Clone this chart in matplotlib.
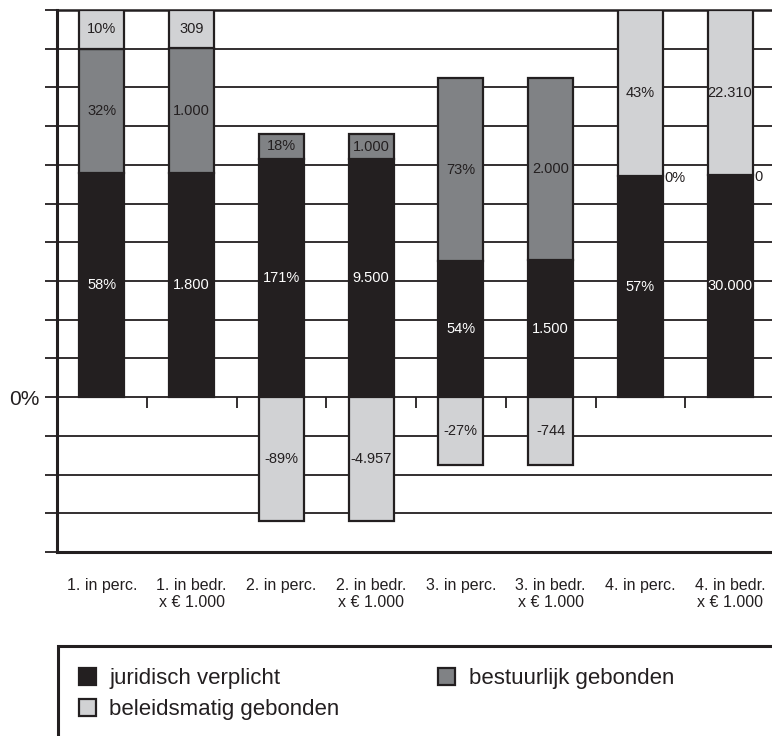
import numpy as np
import matplotlib
matplotlib.use("Agg")
import matplotlib.pyplot as plt
from matplotlib.patches import Rectangle, Patch

plt.rcParams['font.family'] = ['Liberation Sans', 'DejaVu Sans']

categories = ['1. in perc.', '1. in bedr.\nx € 1.000', '2. in perc.', '2. in bedr.\nx € 1.000',
              '3. in perc.', '3. in bedr.\nx € 1.000', '4. in perc.', '4. in bedr.\nx € 1.000']
is_perc = [True, False, True, False, True, False, True, False]
juridisch = [58, 1800, 171, 9500, 54, 1500, 57, 30000]
bestuurlijk = [32, 1000, 18, 1000, 73, 2000, 0, 0]
beleidsmatig = [10, 309, -89, -4957, -27, -744, 43, 22310]
series_names = ['juridisch verplicht', 'bestuurlijk gebonden', 'beleidsmatig gebonden']
y_ticks = list(range(-40, 101, 10))

c_jur = '#231f20'
c_bes = '#808285'
c_bel = '#d1d2d4'
edge = '#231f20'
colors = [c_jur, c_bes, c_bel]
text_colors = ['white', '#231f20', '#231f20']

W, H = 772, 736
fig = plt.figure(figsize=(W / 100, H / 100), dpi=100)
ax_left, ax_right, ax_top, ax_bot = 57, 775, 10, 552
ax = fig.add_axes([ax_left / W, 1 - ax_bot / H, (ax_right - ax_left) / W, (ax_bot - ax_top) / H])

data = np.array([juridisch, bestuurlijk, beleidsmatig], dtype=float)
totals = np.abs(data).sum(axis=0)
heights = data / totals * 100
x = np.arange(len(categories))
width = 0.5

def fmt(v, perc):
    s = f"{int(v):,}".replace(',', '.')
    return s + '%' if perc else s

pos_base = np.zeros(len(categories))
neg_base = np.zeros(len(categories))
for si in range(3):
    for i in range(len(categories)):
        h = heights[si, i]
        if h >= 0:
            b = pos_base[i]
            pos_base[i] += h
        else:
            b = neg_base[i]
            neg_base[i] += h
        if h != 0:
            ax.bar(x[i], h, width, bottom=b, color=colors[si], edgecolor=edge,
                   linewidth=1.6, zorder=3)
            ax.text(x[i], b + h / 2, fmt(data[si, i], is_perc[i]), ha='center', va='center',
                    fontsize=10.5, color=text_colors[si], zorder=4)
        else:
            ax.text(x[i] + width / 2 + 0.02, b - 0.5, fmt(data[si, i], is_perc[i]), ha='left',
                    va='center', fontsize=10.5, color='#231f20', zorder=4)

ax.set_xlim(-0.5, len(categories) - 0.5)
ax.set_ylim(-40, 100)
ax.set_yticks(y_ticks)
ax.set_yticklabels(['0%' if t == 0 else '' for t in y_ticks], fontsize=15, color='#231f20')
ax.yaxis.grid(True, color='#231f20', linewidth=1.3, zorder=0)
ax.tick_params(axis='y', length=8.6, width=1.3, color='#231f20', pad=4)
ax.set_axisbelow(True)

ax.set_xticks(x)
ax.set_xticklabels(categories, fontsize=11.5, color='#231f20', linespacing=1.12)
ax.tick_params(axis='x', length=0, pad=19)

bounds = x[:-1] + 0.5
ax.vlines(bounds, -2.8, 0, color='#231f20', linewidth=1.3, zorder=2)

for s in ['left', 'bottom']:
    ax.spines[s].set_linewidth(2.2)
    ax.spines[s].set_color('#231f20')
ax.spines['top'].set_linewidth(1.8)
ax.spines['top'].set_color('#231f20')
ax.spines['right'].set_visible(False)

# legend frame
fig.patches.append(Rectangle((58 / W, -0.2), 1.0, (H - 646) / H + 0.2, transform=fig.transFigure,
                             facecolor='none', edgecolor='#231f20', linewidth=2.2))
handles = [Patch(facecolor=c_jur, edgecolor=edge, linewidth=1.6, label=series_names[0]),
           Patch(facecolor=c_bel, edgecolor=edge, linewidth=1.6, label=series_names[2]),
           Patch(facecolor=c_bes, edgecolor=edge, linewidth=1.6, label=series_names[1])]
fig.legend(handles=handles, loc='upper left', bbox_to_anchor=(79 / W, 1 - 668 / H), ncol=2,
           frameon=False, fontsize=16, handlelength=0.77, handleheight=0.77, handletextpad=0.59,
           columnspacing=4.45, labelspacing=0.45, borderpad=0, borderaxespad=0,
           labelcolor='#231f20')

fig.savefig('out.png', dpi=100)
